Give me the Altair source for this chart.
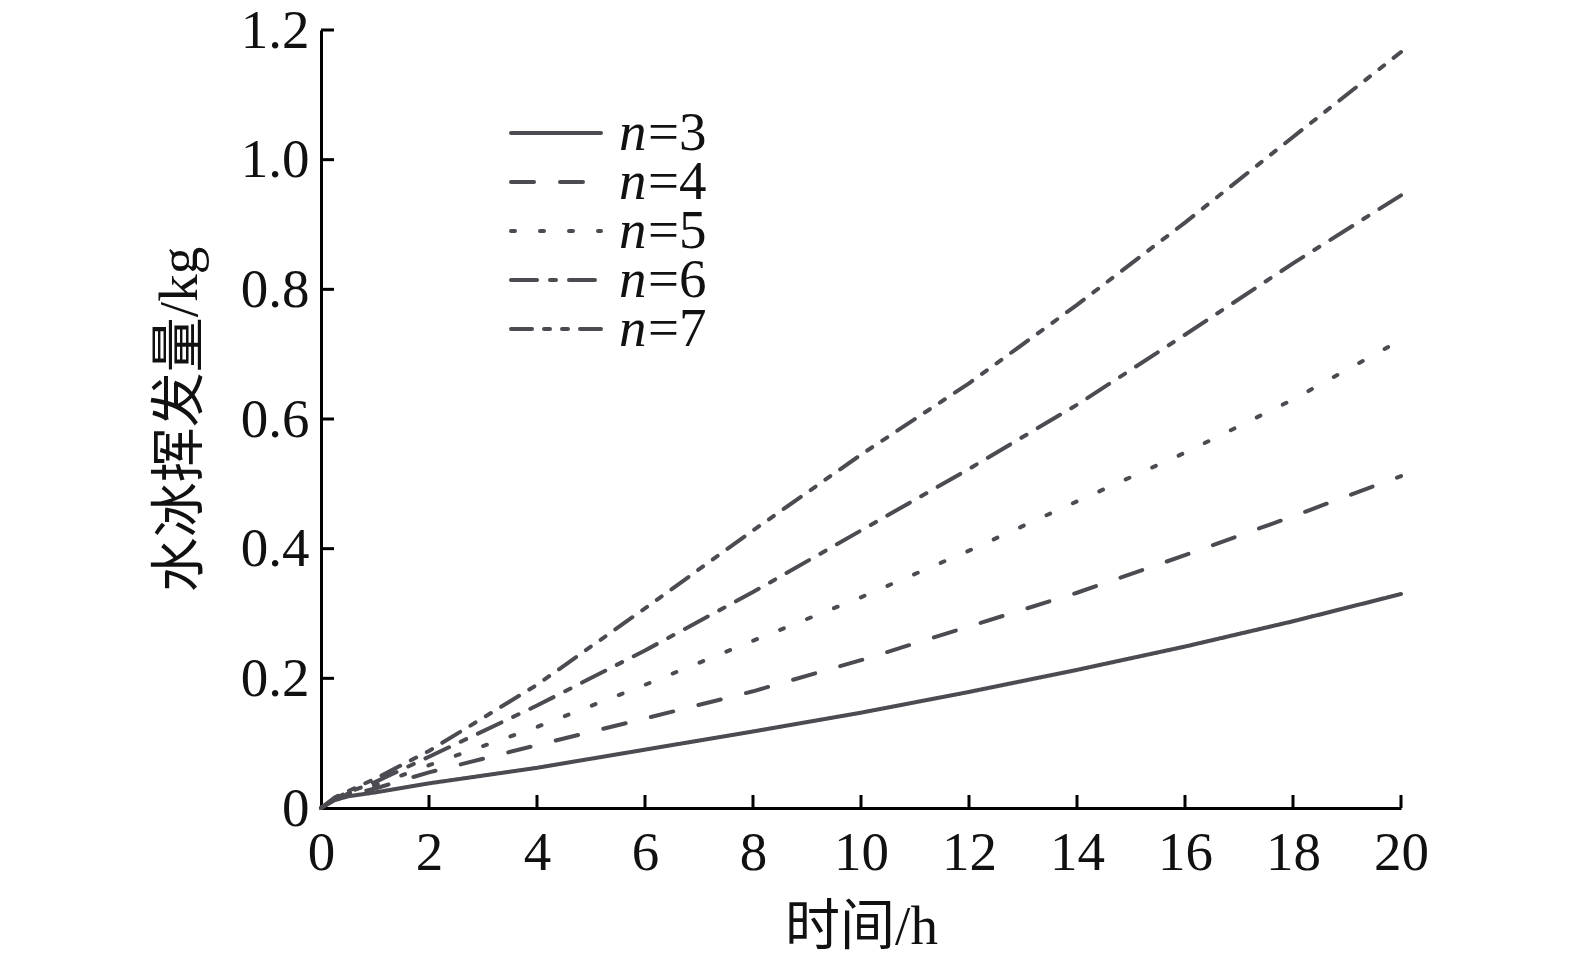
import altair as alt
import pandas as pd

# ---- data ----
hours = [0, 0.25, 0.5, 1, 2, 4, 6, 8, 10, 12, 14, 16, 18, 20]
n3 = [0, 0.012, 0.018, 0.024, 0.038, 0.062, 0.090, 0.118, 0.147, 0.179, 0.213, 0.249, 0.288, 0.330]
n4 = [0, 0.013, 0.020, 0.030, 0.055, 0.097, 0.138, 0.180, 0.228, 0.280, 0.332, 0.390, 0.450, 0.512]
n5 = [0, 0.014, 0.022, 0.035, 0.066, 0.125, 0.190, 0.258, 0.325, 0.397, 0.473, 0.548, 0.630, 0.722]
n6 = [0, 0.015, 0.024, 0.040, 0.079, 0.158, 0.243, 0.333, 0.428, 0.523, 0.622, 0.730, 0.840, 0.945]
n7 = [0, 0.016, 0.026, 0.045, 0.088, 0.190, 0.308, 0.428, 0.545, 0.655, 0.776, 0.903, 1.035, 1.166]
series_names = ["3", "4", "5", "6", "7"]
series_values = [n3, n4, n5, n6, n7]
x_ticks = [0, 2, 4, 6, 8, 10, 12, 14, 16, 18, 20]
y_ticks = [0, 0.2, 0.4, 0.6, 0.8, 1.0, 1.2]
x_title = "时间/h"
y_title = "水冰挥发量/kg"

# ---- styles ----
W, H = 1080, 778
LINE = "#4b4b51"
FONT = "Liberation Serif"
TFONT = "Liberation Serif, Noto Sans CJK SC"
FS = 55
dashes = [[1, 0], [23, 26], [4, 25], [26, 13, 6, 13], [21, 12, 6, 12, 6, 12]]

rows = []
for name, vals in zip(series_names, series_values):
    for h, v in zip(hours, vals):
        rows.append({"t": h, "m": v, "n": name})
df = pd.DataFrame(rows)

xs = alt.Scale(domain=[0, 20], nice=False, zero=True)
ys = alt.Scale(domain=[0, 1.2], nice=False, zero=True)
dash_scale = alt.Scale(domain=series_names, range=dashes)

x_axis = alt.Axis(
    values=x_ticks, title=x_title, ticks=False, grid=False,
    domainColor="black", domainWidth=3,
    labelFont=FONT, labelFontSize=FS, labelColor="#111", labelPadding=18, labelFlush=False,
    titleFont=TFONT, titleFontSize=FS, titleFontWeight="normal", titleColor="#111",
    titleX=W / 2, titleY=92)
y_axis = alt.Axis(
    values=y_ticks, title=y_title, ticks=False, grid=False,
    domainColor="black", domainWidth=3,
    labelFont=FONT, labelFontSize=FS, labelColor="#111", labelPadding=12, labelFlush=False,
    labelExpr="datum.value == 0 ? '0' : format(datum.value, '.1f')",
    titleFont=TFONT, titleFontSize=FS, titleFontWeight="normal", titleColor="#111",
    titleX=-113, titleY=H / 2)

lines = alt.Chart(df).mark_line(color=LINE, strokeWidth=4, strokeCap="round", strokeJoin="round").encode(
    x=alt.X("t:Q", scale=xs, axis=x_axis, title=x_title),
    y=alt.Y("m:Q", scale=ys, axis=y_axis, title=y_title),
    strokeDash=alt.StrokeDash("n:N", scale=dash_scale, legend=None),
    detail="n:N",
)

xt = pd.DataFrame({"t": x_ticks[1:]})
yt = pd.DataFrame({"m": y_ticks[1:]})
xtick_rules = alt.Chart(xt).mark_rule(color="black", strokeWidth=3).encode(
    x=alt.X("t:Q", scale=xs, axis=x_axis, title=x_title),
    y=alt.value(H), y2=alt.value(H - 13),
)
ytick_rules = alt.Chart(yt).mark_rule(color="black", strokeWidth=3).encode(
    y=alt.Y("m:Q", scale=ys, axis=y_axis, title=y_title),
    x=alt.value(0), x2=alt.value(13),
)

leg = pd.DataFrame({"n": series_names, "row": list(range(len(series_names))),
                    "lab": ["=" + s for s in series_names]})
leg_y = alt.Y("row:Q", scale=alt.Scale(domain=[0, 4], range=[103, 299]), axis=None)
leg_lines = alt.Chart(leg).mark_rule(color=LINE, strokeWidth=4, strokeCap="round").encode(
    y=leg_y, x=alt.value(190), x2=alt.value(280),
    strokeDash=alt.StrokeDash("n:N", scale=dash_scale, legend=None),
)
leg_n = alt.Chart(leg).mark_text(font=FONT, fontSize=FS, fontStyle="italic", align="left",
                                 baseline="middle", color="#111").encode(
    y=leg_y, x=alt.value(298), text=alt.value("n"))
leg_lab = alt.Chart(leg).mark_text(font=FONT, fontSize=FS, align="left",
                                   baseline="middle", color="#111").encode(
    y=leg_y, x=alt.value(327), text="lab:N")

base = alt.layer(lines, xtick_rules, ytick_rules)
chart = alt.layer(base, leg_lines, leg_n, leg_lab).resolve_scale(
    y="independent", strokeDash="shared"
).properties(
    width=W, height=H,
    autosize=alt.AutoSizeParams(type="none"),
    padding={"left": 313, "top": 22, "right": 166, "bottom": 144},
    background="white",
).configure_view(stroke=None)

chart.save("out.html", embed_options={"renderer": "svg", "actions": False})
